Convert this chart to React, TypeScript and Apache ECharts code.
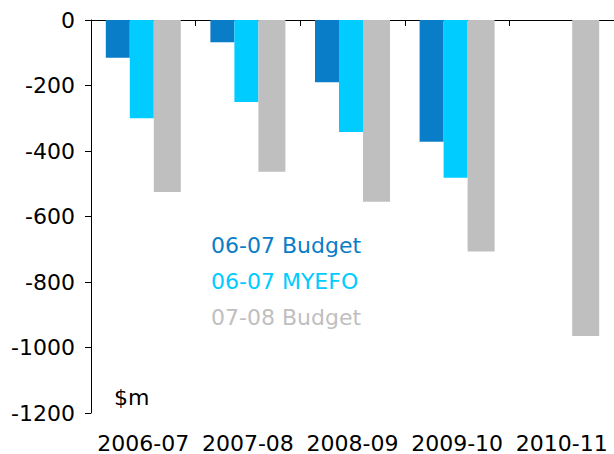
import React, { useEffect, useRef } from "react";
import * as echarts from "echarts";

const categories = ["2006-07", "2007-08", "2008-09", "2009-10", "2010-11"];
const budget0607 = [-115, -68, -190, -372, null];
const myefo0607 = [-300, -250, -342, -482, null];
const budget0708 = [-525, -463, -555, -707, -965];
const yTicks = [0, -200, -400, -600, -800, -1000, -1200];

const FONT = "'DejaVu Sans', Verdana, sans-serif";

export default function App() {
  const ref = useRef<HTMLDivElement>(null);
  useEffect(() => {
    if (!ref.current) return;
    const chart = echarts.init(ref.current, null, { renderer: "svg" });
    chart.setOption({
      animation: false,
      textStyle: { fontFamily: FONT },
      grid: { left: 91, top: 20, right: -4, bottom: 40, containLabel: false },
      legend: {
        orient: "vertical",
        left: 201,
        top: 229,
        itemWidth: 0,
        itemHeight: 0,
        itemGap: 14,
        selectedMode: false,
        data: [
          { name: "06-07 Budget", textStyle: { color: "#0A7DC8" } },
          { name: "06-07 MYEFO", textStyle: { color: "#00CCFF" } },
          { name: "07-08 Budget", textStyle: { color: "#BFBFBF" } },
        ],
        textStyle: { fontSize: 22, fontFamily: FONT },
      },
      xAxis: [
        {
          type: "category",
          data: categories,
          position: "bottom",
          axisLine: { show: false, onZero: false },
          axisTick: { show: false },
          axisLabel: { color: "#000", fontSize: 22, margin: 19, interval: 0, fontFamily: FONT },
        },
        {
          type: "category",
          data: categories,
          position: "top",
          axisLine: { show: true, onZero: false, lineStyle: { color: "#000", width: 1 } },
          axisTick: { show: true, inside: true, length: 6, lineStyle: { color: "#000" } },
          axisLabel: { show: false },
        },
      ],
      yAxis: {
        type: "value",
        min: -1200,
        max: 0,
        interval: 200,
        axisLine: { show: true, lineStyle: { color: "#000", width: 1 } },
        axisTick: { show: true, length: 6, lineStyle: { color: "#000" } },
        splitLine: { show: false },
        axisLabel: {
          color: "#000",
          fontSize: 22,
          margin: 16,
          fontFamily: FONT,
          formatter: (v: number) => (yTicks.includes(v) ? String(v) : ""),
        },
      },
      series: [
        {
          name: "06-07 Budget",
          type: "bar",
          data: budget0607,
          barWidth: 24,
          barGap: "0%",
          itemStyle: { color: "#0A7DC8" },
        },
        {
          name: "06-07 MYEFO",
          type: "bar",
          data: myefo0607,
          barWidth: 24,
          barGap: "0%",
          itemStyle: { color: "#00CCFF" },
        },
        {
          name: "07-08 Budget",
          type: "bar",
          data: budget0708,
          barWidth: 27,
          barGap: "0%",
          itemStyle: { color: "#BFBFBF" },
        },
      ],
      graphic: [
        {
          type: "text",
          left: 114,
          top: 386,
          style: { text: "$m", fontSize: 22, fill: "#000", fontFamily: FONT },
        },
      ],
    });
    return () => chart.dispose();
  }, []);
  return (
    <div
      ref={ref}
      style={{ position: "absolute", left: 0, top: 0, width: 614, height: 454 }}
    />
  );
}
